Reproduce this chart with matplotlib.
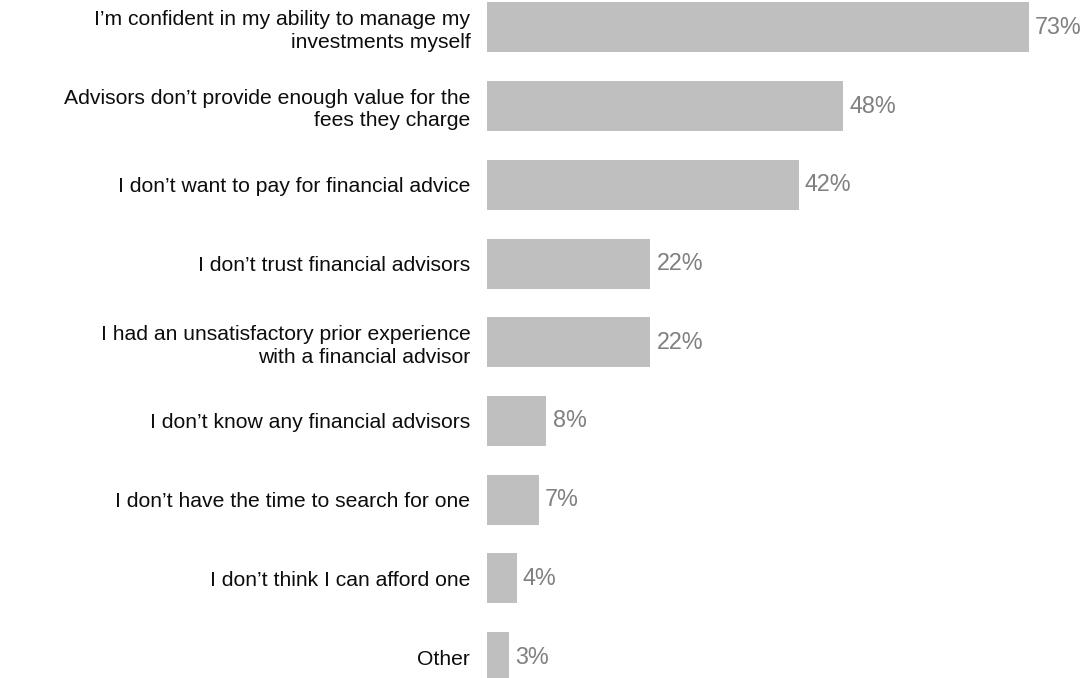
import matplotlib
matplotlib.use("Agg")
import matplotlib.pyplot as plt

plt.rcParams['font.family'] = ['Liberation Sans', 'DejaVu Sans']

# survey answers, top to bottom
reasons = [
    "I\u2019m confident in my ability to manage my\ninvestments myself",
    "Advisors don\u2019t provide enough value for the\nfees they charge",
    "I don\u2019t want to pay for financial advice",
    "I don\u2019t trust financial advisors",
    "I had an unsatisfactory prior experience\nwith a financial advisor",
    "I don\u2019t know any financial advisors",
    "I don\u2019t have the time to search for one",
    "I don\u2019t think I can afford one",
    "Other",
]
shares = [73, 48, 42, 22, 22, 8, 7, 4, 3]

W, H = 1088, 678
fig = plt.figure(figsize=(W / 100, H / 100), dpi=100)

# axes starts where the bars start, fills the rest of the figure
left_px = 487
ax = fig.add_axes([left_px / W, 0, 1 - left_px / W, 1])

pos = list(range(len(reasons)))
ax.barh(pos, shares, height=0.635, color="#bfbfbf")

px_per_pct = 7.42
ax.set_xlim(0, (W - left_px) / px_per_pct)
ax.set_ylim(8.266, -0.349)

ax.set_yticks(pos)
ax.set_yticklabels(reasons, fontsize=15.2, color="#0d0d0d", linespacing=1.22)
ax.tick_params(axis="y", length=0, pad=12)
ax.set_xticks([])
for s in ax.spines.values():
    s.set_visible(False)

for y, v in zip(pos, shares):
    ax.annotate(f"{v}%", (v, y), xytext=(4.5, 0), textcoords="offset points",
                va="center", ha="left", fontsize=16.8, color="#808080")

fig.savefig("out.png", dpi=100)
